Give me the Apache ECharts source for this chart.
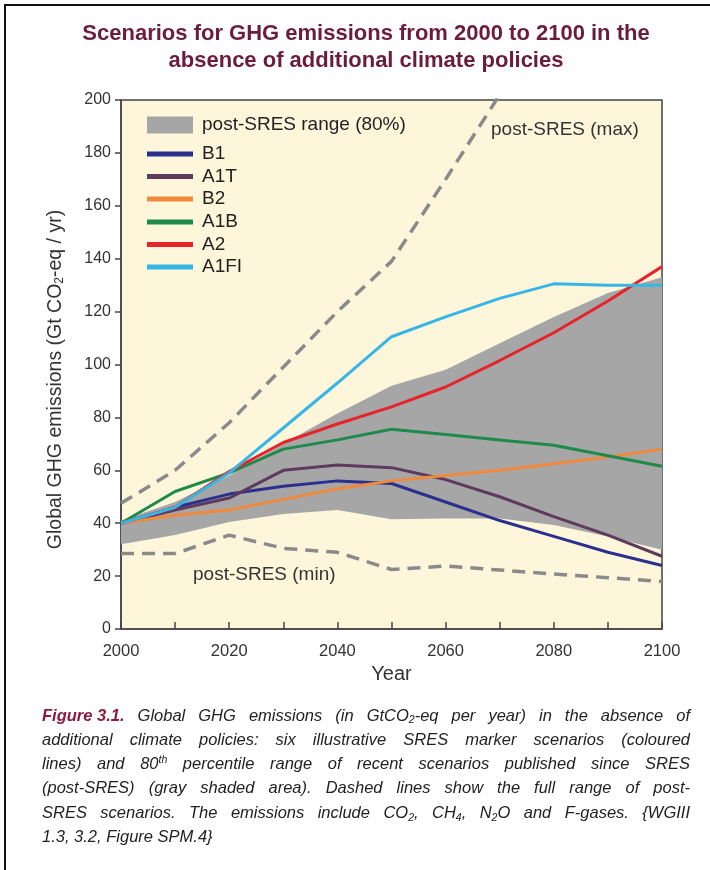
<!DOCTYPE html>
<html><head><meta charset="utf-8">
<script src="https://cdn.jsdelivr.net/npm/echarts@6/dist/echarts.min.js"></script>
<style>html,body{margin:0;padding:0;background:#fff}#c{width:710px;height:870px}</style>
</head><body><div id="c"></div>
<script>
// ---- data (Gt CO2-eq / yr) ----
const years = ['2000','2010','2020','2030','2040','2050','2060','2070','2080','2090','2100'];
const B1   = [40, 46, 51, 54, 56, 55, 48, 41, 35, 29, 24];
const A1T  = [40, 45, 49.5, 60, 62, 61, 56.5, 50, 42.5, 35.5, 27.5];
const B2   = [40, 43, 45, 49, 53, 56, 58, 60, 62.5, 65, 68];
const A1B  = [40, 52, 59, 68, 71.5, 75.5, 73.5, 71.5, 69.5, 65.5, 61.5];
const A2   = [40, 46, 59.5, 70.5, 77.5, 84, 91.5, 101.5, 112, 124, 137];
const A1FI = [40, 46, 59, 76, 93, 110.5, 118, 125, 130.5, 130, 130];
const rangeLow  = [32, 35.5, 40.5, 43.5, 45, 41.5, 41.8, 41.8, 39.3, 35, 30];
const rangeHigh = [41, 48, 58, 70, 81.5, 92, 98, 108, 118, 127, 133];
const postMax = [47.5, 60, 78, 99, 120, 139, 170, 202];
const postMin = [28.5, 28.5, 35.5, 30.5, 29, 22.5, 23.8, 22.3, 20.8, 19.4, 18];
const scenarioNames = ['B1', 'A1T', 'B2', 'A1B', 'A2', 'A1FI'];
const scenarioData = [B1, A1T, B2, A1B, A2, A1FI];
const scenarioColors = ['#2b2f8e', '#5e3b5c', '#f0893c', '#1e8a4c', '#e6232b', '#36b6e6'];
const rangeName = 'post-SRES range (80%)';
const yTicks = {min: 0, max: 200, step: 20};

const FONT = '"Liberation Sans", Arial, Helvetica, sans-serif';
const chart = echarts.init(document.getElementById('c'), null, {renderer: 'canvas'});

// caption with justified lines
const captionLines = [
  "{b|Figure\u00a03.1.} Global GHG emissions (in GtCO{sub|2}-eq per year) in the absence of",
  "additional climate policies: six illustrative SRES marker scenarios (coloured",
  "lines) and 80{sup|th} percentile range of recent scenarios published since SRES",
  "(post-SRES) (gray shaded area). Dashed lines show the full range of post-",
  "SRES scenarios. The emissions include CO{sub|2}, CH{sub|4}, N{sub|2}O and F-gases. {WGIII",
  "1.3, 3.2, Figure SPM.4}"
];
const capSize = 16.5;
const capFonts = {
  n: `italic ${capSize}px "Liberation Sans"`,
  b: `italic bold ${capSize}px "Liberation Sans"`,
  sub: `italic 10.5px "Liberation Sans"`,
  sup: `italic 10.5px "Liberation Sans"`
};
const mctx = document.createElement('canvas').getContext('2d');
function measureWord(w) {
  let total = 0, last = 0, m;
  const re = /\{([a-zA-Z0-9_]+)\|([^}]*)\}/g;
  while ((m = re.exec(w))) {
    if (m.index > last) { mctx.font = capFonts.n; total += mctx.measureText(w.slice(last, m.index)).width; }
    mctx.font = capFonts[m[1]]; total += mctx.measureText(m[2]).width;
    last = re.lastIndex;
  }
  if (last < w.length) { mctx.font = capFonts.n; total += mctx.measureText(w.slice(last)).width; }
  return total;
}
const capX = 42, capW = 648, capY0 = 716, capDY = 24.3;
const captionElems = captionLines.map((line, i) => {
  const rich = {
    b: {font: capFonts.b, fill: '#8c1b3e', lineHeight: 20},
    sub: {font: capFonts.sub, fill: '#222', verticalAlign: 'bottom', lineHeight: 11},
    sup: {font: capFonts.sup, fill: '#222', verticalAlign: 'top', lineHeight: 11}
  };
  let text = line;
  if (i < captionLines.length - 1) {
    const words = line.split(' ');
    const sum = words.reduce((a, w) => a + measureWord(w), 0);
    const gap = Math.max(2, (capW - sum) / (words.length - 1));
    rich['g' + i] = {width: gap, lineHeight: 20, font: capFonts.n};
    text = words.join('{g' + i + '| }');
  }
  return {
    type: 'text', left: capX, top: capY0 + i * capDY - 10,
    style: {text, font: capFonts.n, fill: '#222', lineHeight: 20, rich}
  };
});

const series = [
  {name: 'rangeLow', type: 'line', stack: 'range', data: rangeLow, symbol: 'none',
   lineStyle: {width: 0}, areaStyle: {opacity: 0}, silent: true, z: 1},
  {name: rangeName, type: 'line', stack: 'range', data: rangeHigh.map((v, i) => v - rangeLow[i]),
   symbol: 'none', color: '#a6a6a6', lineStyle: {width: 0},
   areaStyle: {color: '#a6a6a6', opacity: 1}, silent: true, z: 1},
  {name: 'post-SRES (max)', type: 'line', data: postMax, symbol: 'none', clip: true,
   lineStyle: {color: '#8a8a8a', width: 3.5, type: [13, 8]}, z: 2},
  {name: 'post-SRES (min)', type: 'line', data: postMin, symbol: 'none',
   lineStyle: {color: '#8a8a8a', width: 3.5, type: [13, 8]}, z: 2}
];
scenarioNames.forEach((n, i) => {
  series.push({name: n, type: 'line', data: scenarioData[i], symbol: 'none', color: scenarioColors[i],
    lineStyle: {color: scenarioColors[i], width: 3}, z: 3 + i});
});

const legendCenters = [125, 154, 176.5, 199, 222, 244.5, 267];
const legends = [rangeName].concat(scenarioNames).map((n, i) => ({
  data: [i === 0 ? {name: n, icon: 'rect', itemStyle: {color: '#a6a6a6'}} : {name: n, icon: 'rect'}],
  left: 147, top: legendCenters[i] - 10, padding: 0,
  itemWidth: 46, itemHeight: i === 0 ? 17 : 5,
  selectedMode: false,
  textStyle: {fontFamily: FONT, fontSize: 19, color: '#222', lineHeight: 20, padding: [0, 0, 0, 4]}
}));

chart.setOption({
  animation: false,
  backgroundColor: '#fff',
  textStyle: {fontFamily: FONT},
  grid: {left: 121, top: 100, width: 541, height: 529, show: true,
    backgroundColor: '#fef6db', borderColor: '#444', borderWidth: 1.5},
  legend: legends,
  xAxis: {
    type: 'category', data: years, boundaryGap: false,
    axisLine: {lineStyle: {color: '#444', width: 1.5}},
    axisTick: {inside: true, length: 7, interval: 0, lineStyle: {color: '#444', width: 1.5}},
    axisLabel: {interval: 1, fontSize: 16.5, color: '#333', margin: 14},
    splitLine: {show: false},
    name: 'Year', nameLocation: 'middle', nameGap: 33,
    nameTextStyle: {fontSize: 20, color: '#333'}
  },
  yAxis: {
    type: 'value', min: yTicks.min, max: yTicks.max, interval: yTicks.step,
    axisLine: {show: true, lineStyle: {color: '#444', width: 1.5}},
    axisTick: {show: true, length: 6, lineStyle: {color: '#444', width: 1.5}},
    axisLabel: {fontSize: 16, color: '#333', margin: 10},
    splitLine: {show: false},
    name: 'Global GHG emissions (Gt CO{sub|2}-eq / yr)', nameLocation: 'middle', nameGap: 55,
    nameTextStyle: {fontSize: 19.5, color: '#333', padding: [0, 30, 0, 0],
      rich: {sub: {fontSize: 12, color: '#333', verticalAlign: 'bottom', lineHeight: 11}}}
  },
  series,
  graphic: [
    {type: 'polyline', shape: {points: [[5, 870], [5, 5], [710, 5]]}, silent: true,
     style: {stroke: '#111', lineWidth: 2, fill: null}},
    {type: 'text', x: 366, y: 20,
     style: {text: 'Scenarios for GHG emissions from 2000 to 2100 in the\nabsence of additional climate policies',
       font: `bold 22px ${FONT}`, fill: '#6b1c3d', align: 'center', verticalAlign: 'top', lineHeight: 27}},
    {type: 'text', left: 491, top: 120,
     style: {text: 'post-SRES (max)', font: `19px ${FONT}`, fill: '#333'}},
    {type: 'text', left: 193, top: 565,
     style: {text: 'post-SRES (min)', font: `19px ${FONT}`, fill: '#333'}}
  ].concat(captionElems)
});
</script></body></html>
